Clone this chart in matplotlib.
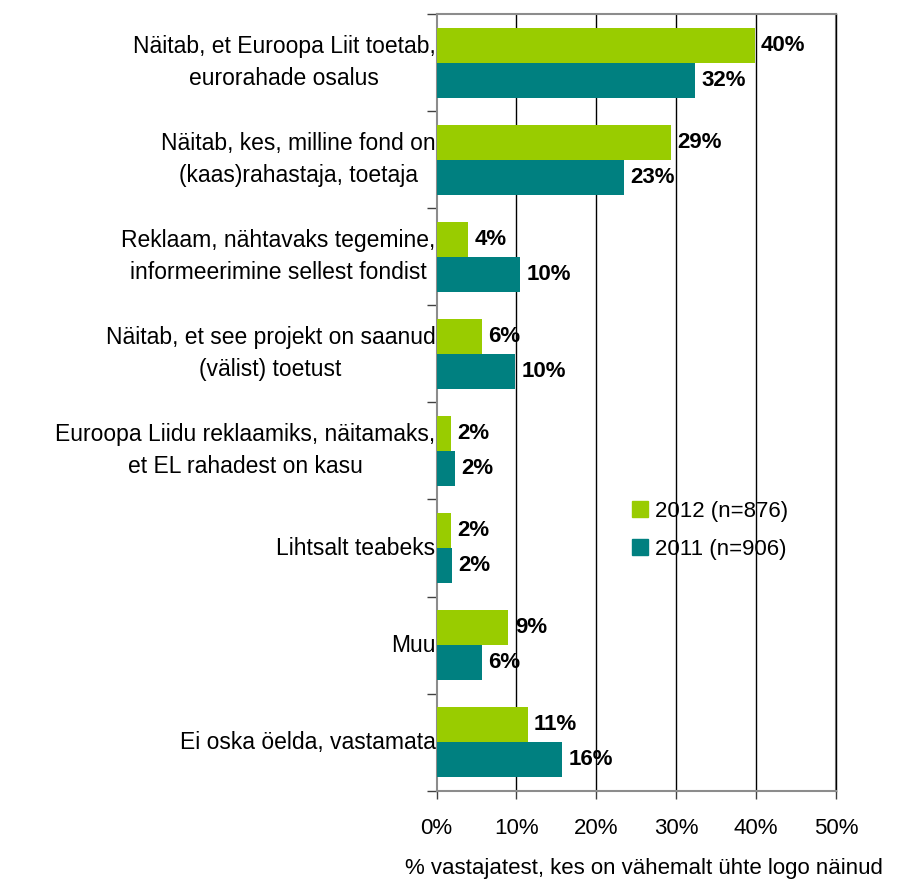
import matplotlib
matplotlib.use('Agg')
import matplotlib.pyplot as plt
import matplotlib.transforms as mtransforms
from matplotlib.patches import Patch
import numpy as np

categories = [
    'Näitab, et Euroopa Liit toetab,\neurorahade osalus',
    'Näitab, kes, milline fond on\n(kaas)rahastaja, toetaja',
    'Reklaam, nähtavaks tegemine,\ninformeerimine sellest fondist',
    'Näitab, et see projekt on saanud\n(välist) toetust',
    'Euroopa Liidu reklaamiks, näitamaks,\net EL rahadest on kasu',
    'Lihtsalt teabeks',
    'Muu',
    'Ei oska öelda, vastamata',
]
y2012 = [39.8, 29.3, 3.9, 5.7, 1.8, 1.8, 9.0, 11.4]
y2011 = [32.4, 23.4, 10.5, 9.8, 2.3, 1.9, 5.7, 15.7]
series_names = ['2012 (n=876)', '2011 (n=906)']
xticks = [0, 10, 20, 30, 40, 50]
xlabel = '% vastajatest, kes on vähemalt ühte logo näinud'

GREEN = '#99cc00'
TEAL = '#008080'
FRAME = '#8c8c8c'

plt.rcParams['font.family'] = ['Liberation Sans', 'DejaVu Sans']

fig = plt.figure(figsize=(9.23, 8.82), dpi=100)
ax = fig.add_axes([0.473, 0.1035, 0.4328, 0.8805])

n = len(categories)
pos = np.arange(n)
h = 0.36
ax.barh(pos - h / 2, y2012, height=h, color=GREEN, zorder=3)
ax.barh(pos + h / 2, y2011, height=h, color=TEAL, zorder=3)

for p, v in zip(pos, y2012):
    ax.text(v + 0.8, p - h / 2, f'{v:.0f}%', va='center', ha='left',
            fontsize=16, fontweight='bold', zorder=4)
for p, v in zip(pos, y2011):
    ax.text(v + 0.8, p + h / 2, f'{v:.0f}%', va='center', ha='left',
            fontsize=16, fontweight='bold', zorder=4)

ax.set_ylim(n - 0.5, -0.5)
ax.set_xlim(0, 50)

# category labels as plain text so multi-line ones stay centred on the group
ax.set_yticks([])
trans = mtransforms.blended_transform_factory(ax.transAxes, ax.transData)
for p, label in zip(pos, categories):
    ax.text(-0.003, p, label, transform=trans, ha='right', va='center',
            multialignment='center', fontsize=16.5, linespacing=1.5)
ax.set_yticks(np.arange(n + 1) - 0.5, minor=True)
ax.tick_params(axis='y', which='minor', length=7, color='#404040', width=1)

ax.set_xticks(xticks)
ax.set_xticklabels([f'{t}%' for t in xticks], fontsize=16)
ax.tick_params(axis='x', length=6, color='#404040', width=1, pad=14)

# vertical gridlines, including the one on the right edge
for t in xticks[1:]:
    ax.axvline(t, color='#000000', linewidth=1, zorder=1, clip_on=False)
for s in ['top', 'right', 'left', 'bottom']:
    ax.spines[s].set_color(FRAME)
    ax.spines[s].set_linewidth(1.5)
ax.spines['right'].set_zorder(0)

ax.set_xlabel(xlabel, fontsize=16)
ax.xaxis.set_label_coords(-0.079, -0.087)
ax.xaxis.label.set_horizontalalignment('left')

handles = [Patch(color=GREEN), Patch(color=TEAL)]
ax.legend(handles, series_names, loc='upper left',
          bbox_to_anchor=(0.49, 0.373), frameon=False, fontsize=16,
          handlelength=0.7, handleheight=0.7, handletextpad=0.3,
          labelspacing=0.75, borderpad=0, borderaxespad=0)

fig.savefig('out.png', dpi=100)
